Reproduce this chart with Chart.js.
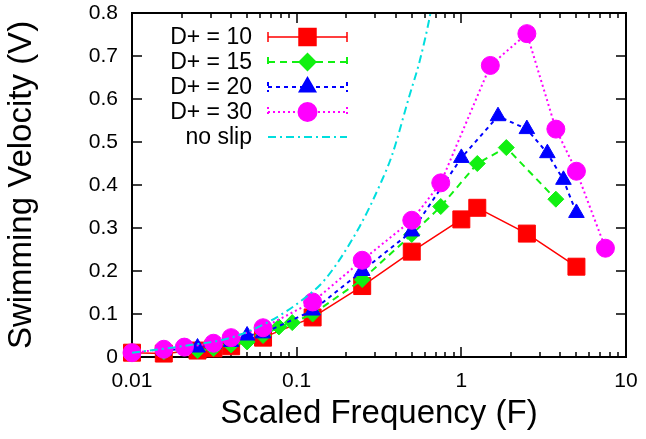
<!DOCTYPE html>
<html>
<head>
<meta charset="utf-8">
<script src="https://cdn.jsdelivr.net/npm/chart.js@4.4.1/dist/chart.umd.min.js"></script>
<style>
  html, body { margin: 0; padding: 0; background: #fff; }
  #wrap { width: 646px; height: 439px; }
</style>
</head>
<body>
<div id="wrap"><canvas id="velChart"></canvas></div>
<script>
// valeurs
const freqD10 = [0.01, 0.0156, 0.025, 0.03125, 0.04, 0.0625, 0.125, 0.25, 0.5, 1, 1.25, 2.5, 5];
const velD10 = [0.01, 0.008, 0.015, 0.02, 0.025, 0.045, 0.092, 0.165, 0.245, 0.32, 0.347, 0.287, 0.21];

const freqD15 = [0.0156, 0.025, 0.03125, 0.04, 0.05, 0.0625, 0.078, 0.094, 0.125, 0.25, 0.5, 0.75, 1.25, 1.875, 3.75];
const velD15 = [0.012, 0.015, 0.02, 0.028, 0.035, 0.05, 0.07, 0.08, 0.1, 0.18, 0.285, 0.35, 0.45, 0.487, 0.367];

const freqD20 = [0.0156, 0.025, 0.03125, 0.04, 0.05, 0.0625, 0.125, 0.25, 0.5, 1, 1.67, 2.5, 3.33, 4.17, 5];
const velD20 = [0.015, 0.022, 0.03, 0.035, 0.05, 0.055, 0.108, 0.2, 0.292, 0.463, 0.56, 0.53, 0.474, 0.412, 0.335];

const freqD30 = [0.01, 0.0156, 0.0208, 0.03125, 0.04, 0.0625, 0.125, 0.25, 0.5, 0.75, 1.5, 2.5, 3.75, 5, 7.5];
const velD30 = [0.01, 0.018, 0.023, 0.032, 0.045, 0.068, 0.128, 0.225, 0.318, 0.405, 0.678, 0.752, 0.53, 0.432, 0.253];

const freqNoSlip = [0.01, 0.02, 0.04, 0.07, 0.11, 0.15, 0.24, 0.32, 0.38, 0.48, 0.56, 0.65, 0.72];
const velNoSlip = [0.01, 0.025, 0.045, 0.085, 0.135, 0.182, 0.302, 0.4, 0.47, 0.603, 0.69, 0.8, 0.9];

const xMajorTicks = [0.01, 0.1, 1, 10];
const yTicks = [0, 0.1, 0.2, 0.3, 0.4, 0.5, 0.6, 0.7, 0.8];

function toPoints(xs, ys) {
    return xs.map((v, i) => ({ x: v, y: ys[i] }));
}

function isMajor(v) {
    const l = Math.log10(v);
    return Math.abs(l - Math.round(l)) < 1e-9;
}

// cadre + graduations vers l'intérieur (style gnuplot)
const frameTicks = {
    id: 'frameTicks',
    beforeDatasetsDraw(chart) {
        const { ctx, chartArea: a, scales: { x, y } } = chart;
        ctx.save();
        ctx.strokeStyle = '#000';
        ctx.lineWidth = 1.5;
        ctx.beginPath();
        x.ticks.forEach(t => {
            const px = Math.round(x.getPixelForValue(t.value));
            const len = isMajor(t.value) ? 10 : 5;
            ctx.moveTo(px, a.bottom); ctx.lineTo(px, a.bottom - len);
            ctx.moveTo(px, a.top); ctx.lineTo(px, a.top + len);
        });
        y.ticks.forEach(t => {
            const py = Math.round(y.getPixelForValue(t.value));
            ctx.moveTo(a.left, py); ctx.lineTo(a.left + 10, py);
            ctx.moveTo(a.right, py); ctx.lineTo(a.right - 10, py);
        });
        ctx.stroke();
        ctx.lineWidth = 2;
        ctx.strokeRect(a.left, a.top, a.width, a.height);
        ctx.restore();
    }
};

// légende à la gnuplot : texte à droite, échantillon de ligne avec barres
const gnuLegend = {
    id: 'gnuLegend',
    afterDraw(chart) {
        const ctx = chart.ctx;
        const a = chart.chartArea;
        ctx.save();
        chart.data.datasets.forEach((ds, row) => {
            const yy = a.top + 24 + row * 25;
            const x0 = a.left + 136, x1 = a.left + 215;
            ctx.font = '23px "Liberation Sans", Arial, sans-serif';
            ctx.fillStyle = '#000';
            ctx.textAlign = 'right';
            ctx.textBaseline = 'middle';
            ctx.fillText(ds.label, a.left + 120, yy + 1);
            ctx.strokeStyle = ds.borderColor;
            ctx.lineWidth = ds.borderWidth;
            ctx.setLineDash(ds.borderDash || []);
            ctx.beginPath();
            ctx.moveTo(x0, yy); ctx.lineTo(x1, yy);
            if (ds.pointRadius > 0) {
                ctx.moveTo(x0, yy - 5); ctx.lineTo(x0, yy + 5);
                ctx.moveTo(x1, yy - 5); ctx.lineTo(x1, yy + 5);
            }
            ctx.stroke();
            ctx.setLineDash([]);
            if (ds.pointRadius > 0) {
                ctx.fillStyle = ds.borderColor;
                Chart.helpers.drawPoint(ctx, {
                    pointStyle: ds.pointStyle, radius: ds.pointRadius, rotation: 0, borderWidth: 1
                }, (x0 + x1) / 2, yy);
            }
        });
        ctx.restore();
    }
};

const ctxVel = document.getElementById('velChart').getContext('2d');
const velChart = new Chart(ctxVel, {
    type: 'line',
    data: {
        datasets: [{
            label: 'D+ = 10',
            data: toPoints(freqD10, velD10),
            borderColor: '#ff0000',
            backgroundColor: '#ff0000',
            borderWidth: 1.5,
            pointStyle: 'rect',
            pointRadius: 12,
            pointBorderWidth: 1,
            clip: false,
            order: 4
        }, {
            label: 'D+ = 15',
            data: toPoints(freqD15, velD15),
            borderColor: '#11f011',
            backgroundColor: '#11f011',
            borderWidth: 2,
            borderDash: [7, 5],
            pointStyle: 'rectRot',
            pointRadius: 8,
            pointBorderWidth: 1,
            clip: false,
            order: 3
        }, {
            label: 'D+ = 20',
            data: toPoints(freqD20, velD20),
            borderColor: '#0000ff',
            backgroundColor: '#0000ff',
            borderWidth: 2,
            borderDash: [4, 4],
            pointStyle: 'triangle',
            pointRadius: 9,
            pointBorderWidth: 1,
            clip: false,
            order: 2
        }, {
            label: 'D+ = 30',
            data: toPoints(freqD30, velD30),
            borderColor: '#ff00ff',
            backgroundColor: '#ff00ff',
            borderWidth: 2,
            borderDash: [2, 3],
            pointStyle: 'circle',
            pointRadius: 9,
            pointBorderWidth: 1,
            clip: false,
            order: 1
        }, {
            label: 'no slip',
            data: toPoints(freqNoSlip, velNoSlip),
            borderColor: '#00dede',
            backgroundColor: '#00dede',
            borderWidth: 2,
            borderDash: [8, 4, 2, 4],
            pointRadius: 0,
            cubicInterpolationMode: 'monotone',
            clip: 1,
            order: 0
        }]
    },
    options: {
        responsive: true,
        maintainAspectRatio: false,
        animation: false,
        layout: { padding: { top: 11, right: 20, left: 0, bottom: 0 } },
        plugins: {
            legend: { display: false },
            tooltip: { enabled: false }
        },
        scales: {
            x: {
                type: 'logarithmic',
                min: 0.01,
                max: 10,
                afterBuildTicks(scale) {
                    const vals = [];
                    xMajorTicks.forEach(m => {
                        if (m >= 10) { vals.push(m); return; }
                        for (let k = 1; k <= 9; k++) vals.push(+(m * k).toPrecision(6));
                    });
                    scale.ticks = vals.map(v => ({ value: v }));
                },
                afterFit(scale) {
                    scale.height = 82;
                    scale.paddingLeft = 0;
                    scale.paddingRight = 0;
                },
                grid: { display: false, drawTicks: false },
                border: { display: false },
                ticks: {
                    autoSkip: false,
                    maxRotation: 0,
                    padding: 12,
                    color: '#000',
                    font: { family: '"Liberation Sans", Arial, sans-serif', size: 21 },
                    callback: v => isMajor(v) ? String(v) : ''
                },
                title: {
                    display: true,
                    text: 'Scaled Frequency (F)',
                    color: '#000',
                    font: { family: '"Liberation Sans", Arial, sans-serif', size: 33 },
                    padding: { top: 0, bottom: 5 }
                }
            },
            y: {
                min: 0,
                max: 0.8,
                afterBuildTicks(scale) {
                    scale.ticks = yTicks.map(v => ({ value: v }));
                },
                afterFit(scale) {
                    scale.width = 132;
                    scale.paddingTop = 0;
                    scale.paddingBottom = 0;
                },
                grid: { display: false, drawTicks: false },
                border: { display: false },
                ticks: {
                    padding: 14,
                    color: '#000',
                    font: { family: '"Liberation Sans", Arial, sans-serif', size: 21 },
                    callback: v => String(Math.round(v * 10) / 10)
                },
                title: {
                    display: true,
                    text: 'Swimming Velocity (V)',
                    color: '#000',
                    font: { family: '"Liberation Sans", Arial, sans-serif', size: 33 },
                    padding: { top: 2, bottom: 0 }
                }
            }
        }
    },
    plugins: [frameTicks, gnuLegend]
});
</script>
</body>
</html>
